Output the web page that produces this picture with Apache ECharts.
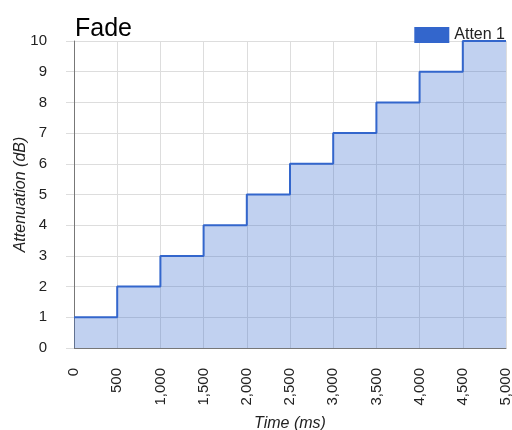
<!DOCTYPE html>
<html><head><meta charset="utf-8">
<script src="https://cdn.jsdelivr.net/npm/echarts@6/dist/echarts.min.js"></script>
<style>html,body{margin:0;padding:0;background:#fff}#c{width:512px;height:430px}</style>
</head><body><div id="c"></div>
<script>
const times = [0, 500, 1000, 1500, 2000, 2500, 3000, 3500, 4000, 4500, 5000];
const atten = [1, 2, 3, 4, 5, 6, 7, 8, 9, 10, 10];
const seriesName = 'Atten 1';
const chartTitle = 'Fade';
const xName = 'Time (ms)';
const yName = 'Attenuation (dB)';

const font = '"Liberation Sans", Arial, sans-serif';
const chart = echarts.init(document.getElementById('c'), null, {renderer: 'canvas'});
chart.setOption({
  animation: false,
  textStyle: {fontFamily: font},
  title: {text: chartTitle, left: 70, top: 12, textStyle: {fontFamily: font, fontSize: 25, fontWeight: 'normal', color: '#000'}},
  legend: {right: 2, top: 22, itemWidth: 35, itemHeight: 16, icon: 'rect', itemGap: 6,
    textStyle: {fontFamily: font, fontSize: 16, color: '#222'},
    data: [seriesName]},
  grid: {left: 74, right: 6, top: 41, bottom: 82, outerBoundsMode: 'none', containLabel: false},
  xAxis: {type: 'value', min: 0, max: 5000, interval: 500,
    name: xName, nameLocation: 'middle', nameGap: 68, nameMoveOverlap: false,
    nameTextStyle: {fontFamily: font, fontSize: 16, fontStyle: 'italic', color: '#222'},
    axisLine: {show: true, lineStyle: {color: '#777', width: 1}},
    axisTick: {show: false},
    axisLabel: {rotate: 90, margin: 20, fontSize: 15, color: '#222', fontFamily: font,
      formatter: v => v.toLocaleString('en-US')},
    splitLine: {show: true, lineStyle: {color: '#ddd', width: 1}}},
  yAxis: {type: 'value', min: 0, max: 10, interval: 1,
    name: yName, nameLocation: 'middle', nameGap: 45, nameMoveOverlap: false,
    nameTextStyle: {fontFamily: font, fontSize: 16, fontStyle: 'italic', color: '#222'},
    axisLine: {show: true, lineStyle: {color: '#777', width: 1}},
    axisTick: {show: true, length: 8, lineStyle: {color: '#ddd'}},
    axisLabel: {margin: 27, fontSize: 15, color: '#222', fontFamily: font},
    splitLine: {show: true, lineStyle: {color: '#ddd', width: 1}}},
  series: [{
    name: seriesName, type: 'line', step: 'end', symbol: 'none',
    data: times.map((t, i) => [t, atten[i]]),
    itemStyle: {color: '#3366cc'},
    lineStyle: {color: '#3366cc', width: 2},
    areaStyle: {color: '#3366cc', opacity: 0.3}
  }]
});
</script></body></html>
